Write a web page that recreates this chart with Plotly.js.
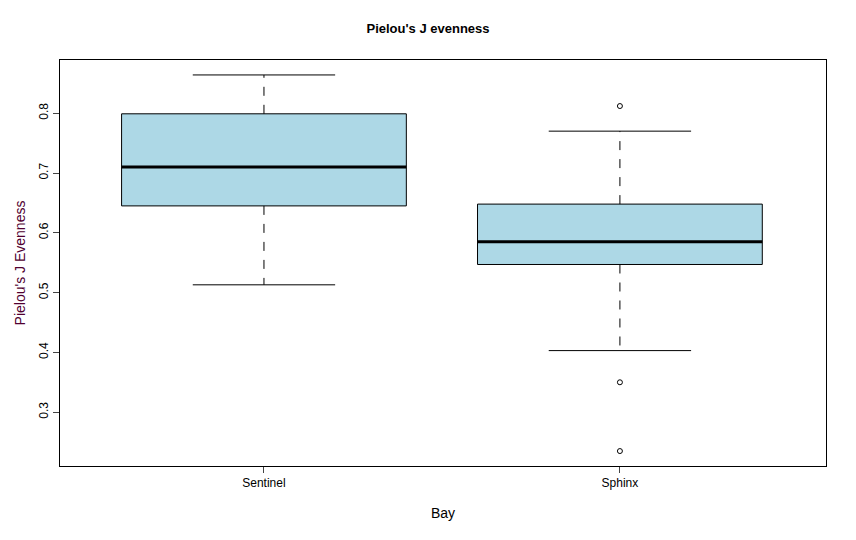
<!DOCTYPE html>
<html>
<head>
<meta charset="utf-8">
<script src="https://cdn.plot.ly/plotly-3.0.1.min.js"></script>
<style>body{margin:0;background:#fff}</style>
</head>
<body>
<div id="chart" style="width:856px;height:540px"></div>
<script>
// Boxplot stats
const bays = ['Sentinel', 'Sphinx'];
const lowerWhisker = [0.513, 0.403];
const q1 = [0.645, 0.547];
const median = [0.710, 0.585];
const q3 = [0.799, 0.648];
const upperWhisker = [0.864, 0.770];
const outlierBay = [2, 2, 2];
const outlierValue = [0.812, 0.350, 0.235];

const BOX_HALF = 0.4, CAP_HALF = 0.2;
const line = {color: 'black', width: 1};
const traces = [];

bays.forEach((name, i) => {
    const x = i + 1;
    // box body
    traces.push({
        x: [x - BOX_HALF, x + BOX_HALF, x + BOX_HALF, x - BOX_HALF, x - BOX_HALF],
        y: [q1[i], q1[i], q3[i], q3[i], q1[i]],
        mode: 'lines', fill: 'toself', fillcolor: '#add8e6',
        line: line, hoverinfo: 'skip'
    });
    // median
    traces.push({
        x: [x - BOX_HALF, x + BOX_HALF], y: [median[i], median[i]],
        mode: 'lines', line: {color: 'black', width: 3}, hoverinfo: 'skip'
    });
    // dashed whiskers
    traces.push({
        x: [x, x, null, x, x],
        y: [q3[i], upperWhisker[i], null, q1[i], lowerWhisker[i]],
        mode: 'lines', line: {color: 'black', width: 1, dash: 'dash'}, hoverinfo: 'skip'
    });
    // caps
    traces.push({
        x: [x - CAP_HALF, x + CAP_HALF, null, x - CAP_HALF, x + CAP_HALF],
        y: [upperWhisker[i], upperWhisker[i], null, lowerWhisker[i], lowerWhisker[i]],
        mode: 'lines', line: line, hoverinfo: 'skip'
    });
});

traces.push({
    x: outlierBay, y: outlierValue, mode: 'markers',
    marker: {symbol: 'circle-open', size: 5, color: 'black', line: {width: 1}}
});

const layout = {
    width: 856, height: 540,
    paper_bgcolor: 'white', plot_bgcolor: 'white',
    showlegend: false,
    font: {family: 'Liberation Sans, Arial, sans-serif', size: 12, color: 'black'},
    margin: {l: 60, r: 30, t: 60, b: 74},
    title: {text: "<b>Pielou's J evenness</b>", x: 0.5, y: 0.955, font: {size: 13}},
    xaxis: {
        range: [0.427, 2.579], tickvals: [1, 2], ticktext: bays,
        ticks: 'outside', ticklen: 6, showgrid: false, zeroline: false,
        showline: true, mirror: true, linecolor: 'black',
        title: {text: 'Bay', standoff: 18}
    },
    yaxis: {
        range: [0.21, 0.889], tickvals: [0.3, 0.4, 0.5, 0.6, 0.7, 0.8],
        tickangle: -90, ticks: 'outside', ticklen: 6, showgrid: false, zeroline: false,
        showline: true, mirror: true, linecolor: 'black',
        title: {text: "Pielou's J Evenness", font: {color: '#500030'}, standoff: 8}
    }
};

Plotly.newPlot('chart', traces, layout, {displayModeBar: false});
</script>
</body>
</html>
